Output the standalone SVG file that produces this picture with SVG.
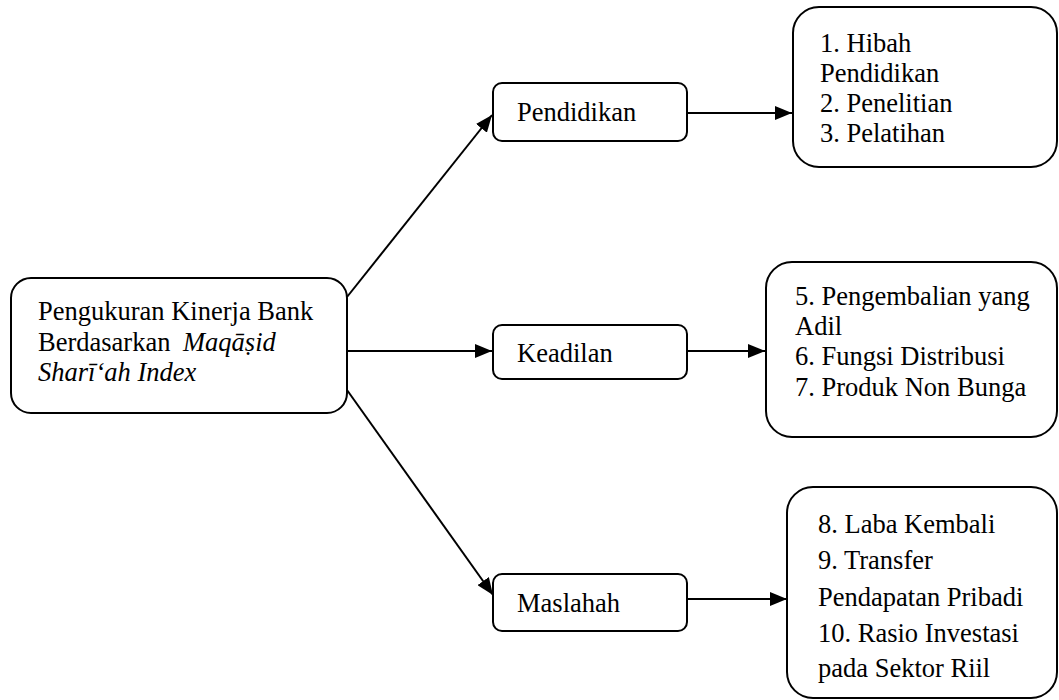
<svg xmlns="http://www.w3.org/2000/svg" width="1059" height="700" viewBox="0 0 1059 700">
<defs>
<style>
.box{fill:#fff;stroke:#000;stroke-width:2}
.t{font-family:"Liberation Serif","Times New Roman",serif;font-size:26.5px;fill:#000}
.i{font-style:italic}
.c{stroke:#000;stroke-width:2;fill:none;marker-end:url(#ah)}
</style>
<marker id="ah" markerUnits="userSpaceOnUse" markerWidth="18" markerHeight="14" refX="17" refY="7" orient="auto">
<path d="M0,0 L17,7 L0,14 z" fill="#000"/>
</marker>
</defs>
<rect width="1059" height="700" fill="#fff"/>
<g id="connectors">
<line class="c" x1="347" y1="297" x2="492" y2="115"/>
<line class="c" x1="347" y1="351" x2="492" y2="351"/>
<line class="c" x1="347" y1="390" x2="493" y2="595"/>
<line class="c" x1="687" y1="113" x2="792" y2="113"/>
<line class="c" x1="687" y1="351" x2="765" y2="351"/>
<line class="c" x1="687" y1="599" x2="787" y2="599"/>
</g>
<g id="main">
<rect class="box" x="11" y="278" width="336" height="135" rx="20"/>
<text class="t" x="38" y="320">Pengukuran Kinerja Bank</text>
<text class="t" x="38" y="351">Berdasarkan <tspan class="i" x="183">Maqāṣid</tspan></text>
<text class="t i" x="38" y="381">Sharī‘ah Index</text>
</g>
<g id="pendidikan">
<rect class="box" x="493" y="83" width="194" height="58" rx="9"/>
<text class="t" x="517" y="121">Pendidikan</text>
</g>
<g id="keadilan">
<rect class="box" x="493" y="325" width="194" height="54" rx="9"/>
<text class="t" x="517" y="362">Keadilan</text>
</g>
<g id="maslahah">
<rect class="box" x="493" y="574" width="194" height="57" rx="9"/>
<text class="t" x="517" y="612">Maslahah</text>
</g>
<g id="ind-pendidikan">
<rect class="box" x="793" y="7" width="264" height="160" rx="26"/>
<text class="t" x="820" y="52">1. Hibah</text>
<text class="t" x="820" y="82">Pendidikan</text>
<text class="t" x="820" y="112">2. Penelitian</text>
<text class="t" x="820" y="142">3. Pelatihan</text>
</g>
<g id="ind-keadilan">
<rect class="box" x="766" y="262" width="291" height="175" rx="26"/>
<text class="t" x="795" y="305">5. Pengembalian yang</text>
<text class="t" x="795" y="335">Adil</text>
<text class="t" x="795" y="365">6. Fungsi Distribusi</text>
<text class="t" x="795" y="396">7. Produk Non Bunga</text>
</g>
<g id="ind-maslahah">
<rect class="box" x="787" y="487" width="270" height="211" rx="26"/>
<text class="t" x="818" y="533">8. Laba Kembali</text>
<text class="t" x="818" y="569">9. Transfer</text>
<text class="t" x="818" y="606">Pendapatan Pribadi</text>
<text class="t" x="818" y="642">10. Rasio Investasi</text>
<text class="t" x="818" y="677">pada Sektor Riil</text>
</g>
</svg>
